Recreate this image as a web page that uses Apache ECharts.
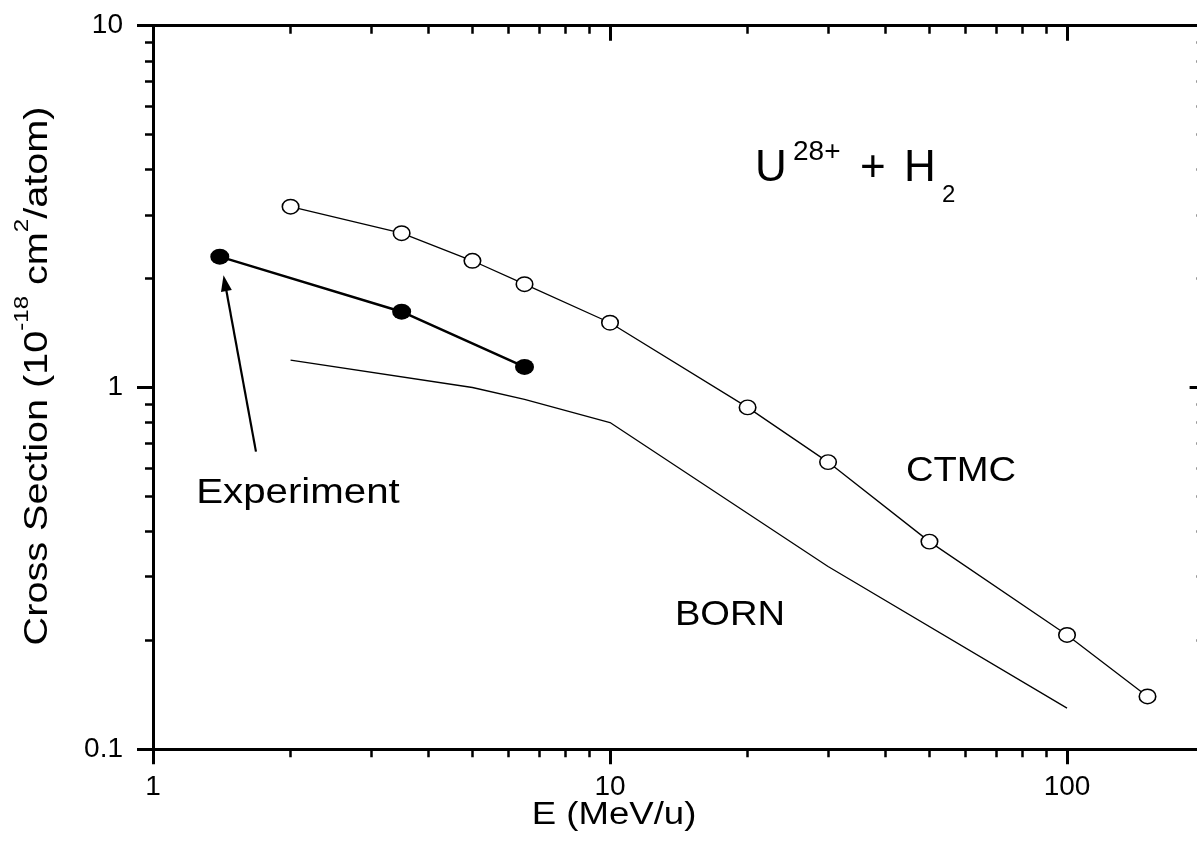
<!DOCTYPE html>
<html>
<head>
<meta charset="utf-8">
<title>U28+ + H2 cross section</title>
<script src="https://cdn.jsdelivr.net/npm/echarts@6/dist/echarts.min.js"></script>
<style>
  html, body { margin: 0; padding: 0; background: #fff; }
  #chart { width: 1197px; height: 860px; }
</style>
</head>
<body>
<div id="chart"></div>
<script>
// E in MeV/u, cross section in 1e-18 cm^2/atom
const ctmcEnergy = [2, 3.5, 5, 6.5, 10, 20, 30, 50, 100, 150]
const ctmcSigma = [3.16, 2.67, 2.24, 1.93, 1.51, 0.881, 0.622, 0.375, 0.207, 0.14]
const expEnergy = [1.4, 3.5, 6.5]
const expSigma = [2.30, 1.62, 1.14]
const bornEnergy = [2, 5, 6.5, 10, 30, 100]
const bornSigma = [1.19, 1.0, 0.927, 0.80, 0.32, 0.13]

// arrow pointing at the first experiment point (tail, tip)
const arrowFrom = [1.68, 0.665]
const arrowTo = [1.437, 1.944]

const xMajor = [1, 10, 100]
const xMinor = [2, 3, 4, 5, 6, 7, 8, 9, 20, 30, 40, 50, 60, 70, 80, 90, 200]
const yMajor = [0.1, 1, 10]
const yMinor = [0.2, 0.3, 0.4, 0.5, 0.6, 0.7, 0.8, 0.9, 2, 3, 4, 5, 6, 7, 8, 9]

const FONT = '"Liberation Sans", Arial, sans-serif'
const pairs = (xs, ys) => xs.map((x, i) => [x, ys[i]])

// one log axis, only used for a set of ticks (and maybe line + labels)
const logAxis = (dim, position, ticks, opts) => ({
  type: 'log',
  logBase: 10,
  min: dim === 'x' ? 1 : 0.1,
  max: dim === 'x' ? 200 : 10,
  position: position,
  splitLine: { show: false },
  axisLine: {
    show: !!opts.line,
    lineStyle: { color: '#000', width: 3 },
  },
  axisTick: {
    show: true,
    inside: !!opts.inside,
    length: opts.len,
    customValues: ticks,
    lineStyle: { color: '#000', width: opts.w },
  },
  axisLabel: opts.labels ? {
    show: true,
    customValues: ticks,
    margin: dim === 'x' ? 24 : 30,
    color: '#000',
    fontSize: 28,
    fontFamily: FONT,
    formatter: (v) => String(+Number(v).toPrecision(3)),
  } : { show: false },
})

// annotation text; sx stretches it along the line to mimic the wide letter spacing
const txt = (text, x, y, size, align, sx) => ({
  type: 'text',
  x: x,
  y: y,
  scaleX: sx || 1,
  silent: true,
  style: {
    text: text,
    fill: '#000',
    fontSize: size,
    fontFamily: FONT,
    align: align || 'center',
    textAlign: align || 'center',
    verticalAlign: 'middle',
    textVerticalAlign: 'middle',
  },
})

const chart = echarts.init(document.getElementById('chart'), null, { renderer: 'canvas' })

chart.setOption({
  animation: false,
  backgroundColor: '#fff',
  grid: {
    left: 153,
    top: 25.7,
    right: -7.6,
    bottom: 110.7,
    outerBoundsMode: 'none',
  },
  xAxis: [
    logAxis('x', 'bottom', xMajor, { line: true, len: 15, w: 3, labels: true }),
    logAxis('x', 'bottom', xMinor, { len: 8, w: 2.5 }),
    logAxis('x', 'top', xMajor, { line: true, len: 15, w: 3, inside: true }),
    logAxis('x', 'top', xMinor, { len: 8, w: 2.5, inside: true }),
  ],
  yAxis: [
    logAxis('y', 'left', yMajor, { line: true, len: 16, w: 3, labels: true }),
    logAxis('y', 'left', yMinor, { len: 8, w: 2.5 }),
    logAxis('y', 'right', yMajor, { line: true, len: 15, w: 3, inside: true }),
    logAxis('y', 'right', yMinor, { len: 8, w: 2.5, inside: true }),
  ],
  series: [
    {
      name: 'BORN',
      type: 'line',
      data: pairs(bornEnergy, bornSigma),
      showSymbol: false,
      symbol: 'none',
      lineStyle: { color: '#000', width: 1.3 },
      silent: true,
      z: 2,
    },
    {
      name: 'CTMC',
      type: 'line',
      data: pairs(ctmcEnergy, ctmcSigma),
      symbol: 'circle',
      symbolSize: [16.5, 14.5],
      itemStyle: { color: '#fff', borderColor: '#000', borderWidth: 1.5 },
      lineStyle: { color: '#000', width: 1.3 },
      silent: true,
      z: 3,
    },
    {
      name: 'Experiment',
      type: 'line',
      data: pairs(expEnergy, expSigma),
      symbol: 'circle',
      symbolSize: [19, 16],
      itemStyle: { color: '#000' },
      lineStyle: { color: '#000', width: 2.5 },
      silent: true,
      z: 4,
      markLine: {
        silent: true,
        animation: false,
        symbol: ['none', 'triangle'],
        label: { show: false },
        itemStyle: { color: '#000' },
        lineStyle: { color: '#000', width: 2.2, type: 'solid' },
        data: [[
          { coord: arrowFrom, symbol: 'none' },
          { coord: arrowTo, symbol: 'triangle', symbolSize: [11, 16] },
        ]],
      },
    },
  ],
  graphic: [
    txt('Experiment', 298, 493, 35, 'center', 1.15),
    txt('CTMC', 961, 471, 35, 'center', 1.09),
    txt('BORN', 730, 615, 35, 'center', 1.09),
    txt('E (MeV/u)', 614, 815, 31, 'center', 1.18),
    txt('U', 755, 169, 44, 'left'),
    txt('28+', 793, 152.5, 28, 'left'),
    txt('+', 860, 169, 44, 'left'),
    txt('H', 904, 169, 44, 'left'),
    txt('2', 942, 195, 24, 'left'),
    {
      type: 'text',
      x: 37.5,
      y: 376,
      rotation: Math.PI / 2,
      scaleX: 1.2,
      silent: true,
      style: {
        text: '{m|Cross Section (10}{s|-18}{m| cm}{s|2}{m|/atom)}',
        fill: '#000',
        fontFamily: FONT,
        fontSize: 33,
        align: 'center',
        textAlign: 'center',
        verticalAlign: 'middle',
        textVerticalAlign: 'middle',
        rich: {
          m: { fontSize: 33, fontFamily: FONT, lineHeight: 51, verticalAlign: 'middle' },
          s: { fontSize: 20, fontFamily: FONT, lineHeight: 20, verticalAlign: 'top' },
        },
      },
    },
  ],
})

window.addEventListener('resize', () => {
  chart.resize()
})
</script>
</body>
</html>
